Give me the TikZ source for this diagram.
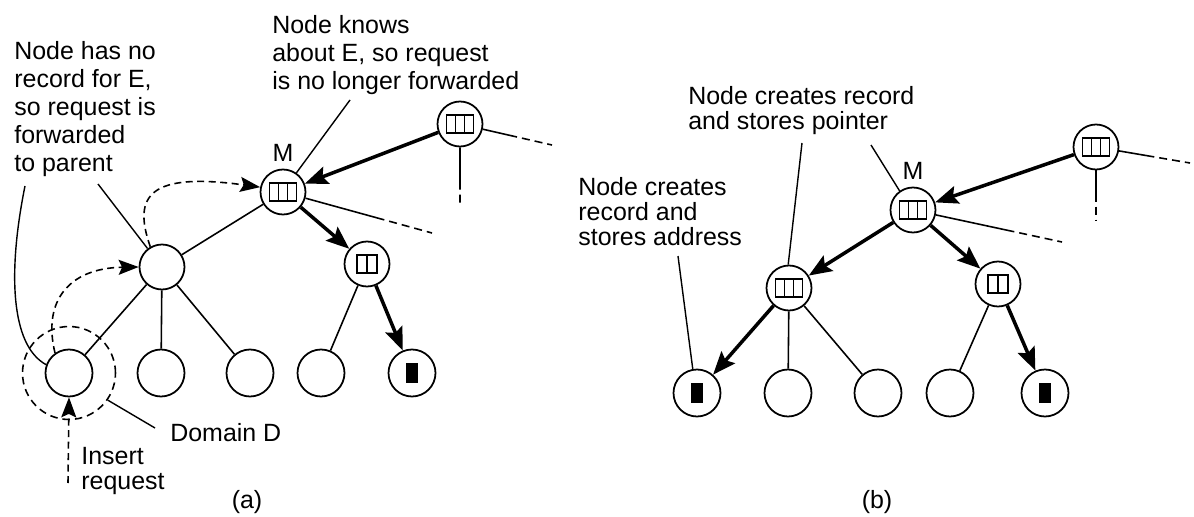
\documentclass[tikz,border=0pt]{standalone}
\usepackage{fontspec}
\setmainfont{Liberation Sans}
\usetikzlibrary{arrows.meta,positioning,calc}

\begin{document}
\begin{tikzpicture}[x=0.02cm,y=-0.02cm,font=\fontsize{14.2}{14.2}\selectfont,
 tn/.style={circle,draw,line width=1pt,minimum size=0.9cm,inner sep=0},
 leaf/.style={tn,minimum size=0.94cm},
 rec3/.style={tn,path picture={\draw[line width=1.1pt]
   ([shift={(-13.5,-9)}]path picture bounding box.center) rectangle +(27,18)
   ([shift={(-4.5,-9)}]path picture bounding box.center) -- +(0,18)
   ([shift={(4.5,-9)}]path picture bounding box.center) -- +(0,18);}},
 rec2/.style={tn,path picture={\draw[line width=1.1pt]
   ([shift={(-10,-9)}]path picture bounding box.center) rectangle +(20,18)
   ([shift={(0,-9)}]path picture bounding box.center) -- +(0,18);}},
 recf/.style={leaf,path picture={\fill
   ([shift={(-6,-10)}]path picture bounding box.center) rectangle +(12,20);}},
 domc/.style={circle,draw,line width=0.9pt,dash pattern=on 0.15cm off 0.1cm,minimum size=1.86cm,inner sep=0},
 lnk/.style={line width=0.9pt},
 dang/.style={lnk,dash pattern=on 0.16cm off 0.1cm,dash phase=0.16cm},
 thk/.style={line width=2pt,-{Stealth[length=0.46cm,width=0.36cm,inset=0.08cm]}},
 darr/.style={line width=0.9pt,dash pattern=on 0.14cm off 0.09cm,-{Stealth[length=0.4cm,width=0.3cm,inset=0.07cm]}},
 ptr/.style={line width=0.8pt},
 txt/.style={align=left,inner sep=0,anchor=north west},
 txtw/.style={txt,font=\fontsize{14.2}{15.9}\selectfont}]
\useasboundingbox (0,0) rectangle (1194,517);

% (a)
\node[rec3] (Ma) at (283,192) {};
\node[above=0.14cm of Ma,inner sep=0] (MaL) {M};
\node[rec3] (Ta) at (460,124) {};
\node[tn] (La) at (162,267) {};
\node[rec2] (Ra) at (367,264) {};
\node[leaf] (a1) at (69,373) {};
\node[leaf] (a2) at (161,373) {};
\node[leaf] (a3) at (250,373) {};
\node[leaf] (a4) at (321,373) {};
\node[recf] (a5) at (412,373) {};
\node[domc] (Da) at (a1) {};
\draw[thk] (Ta) -- (Ma);
\draw[thk] (Ma) -- (Ra);
\draw[thk] (Ra) -- (a5);
\draw[lnk] (Ma) -- (La);
\foreach \n in {a1,a2,a3}{\draw[lnk] (La) -- (\n);}
\draw[lnk] (Ra) -- (a4);
\coordinate (MaR) at (432,233);
\coordinate (TaR) at (552,145);
\coordinate (TaD) at (460,206);
\coordinate (MaM) at ($(Ma)!0.68!(MaR)$);
\coordinate (TaM) at ($(Ta)!0.62!(TaR)$);
\coordinate (TaN) at ($(Ta)!0.8!(TaD)$);
\draw[lnk] (Ma) -- (MaM);
\draw[dang] (MaM) -- (MaR);
\draw[lnk] (Ta) -- (TaM);
\draw[dang] (TaM) -- (TaR);
\draw[lnk] (Ta) -- (TaN);
\draw[dang] (TaN) -- (TaD);
\draw[darr] (a1.125) .. controls (42,300) and (70,268) .. (La.180);
\draw[darr] (La.120) .. controls (132,195) and (150,172) .. (Ma.168);
\node[txtw] (ta) at (14,41) {Node has no\\record for E,\\so request is\\forwarded\\to parent};
\coordinate (ta1) at (25,186);
\coordinate (ta2) at (98,184);
\draw[ptr] (ta1) .. controls (8,270) and (10,345) .. (a1.160);
\draw[ptr] (ta2) -- (La.128);
\node[txtw] (tb) at (272,15) {Node knows\\about E, so request\\is no longer forwarded};
\coordinate (tb1) at (350,100);
\draw[ptr] (tb1) -- (Ma.55);
\node[anchor=west,inner sep=0] (dl) at (170,433) {Domain D};
\draw[ptr] ([shift={(-15,-5)}]dl.west) -- (Da.-35);
\node[txt,anchor=west] (ir) at (81,471) {Insert\\request};
\coordinate (irS) at (68,483);
\draw[darr] (irS) -- (a1.south);
\node (capa) at (247,502) {(a)};

% (b)
\node[rec3] (Mb) at (913,210) {};
\node[above=0.14cm of Mb,inner sep=0] (MbL) {M};
\node[rec3] (Tb) at (1096,147) {};
\node[rec3] (Lb) at (789,288) {};
\node[rec2] (Rb) at (998,284) {};
\node[recf] (b1) at (697,393) {};
\node[leaf] (b2) at (788,393) {};
\node[leaf] (b3) at (878,393) {};
\node[leaf] (b4) at (950,393) {};
\node[recf] (b5) at (1045,393) {};
\draw[thk] (Tb) -- (Mb);
\foreach \a/\b in {Mb/Lb,Mb/Rb,Lb/b1,Rb/b5}{\draw[thk] (\a) -- (\b);}
\foreach \a/\b in {Lb/b2,Lb/b3,Rb/b4}{\draw[lnk] (\a) -- (\b);}
\coordinate (MbR) at (1062,242);
\coordinate (TbR) at (1190,163);
\coordinate (TbD) at (1096,220);
\coordinate (MbM) at ($(Mb)!0.68!(MbR)$);
\coordinate (TbM) at ($(Tb)!0.62!(TbR)$);
\coordinate (TbN) at ($(Tb)!0.75!(TbD)$);
\draw[lnk] (Mb) -- (MbM);
\draw[dang] (MbM) -- (MbR);
\draw[lnk] (Tb) -- (TbM);
\draw[dang] (TbM) -- (TbR);
\draw[lnk] (Tb) -- (TbN);
\draw[dang] (TbN) -- (TbD);
\node[txt] (tc) at (688,86) {Node creates record\\and stores pointer};
\coordinate (tc1) at (802,143);
\coordinate (tc2) at (871,145);
\draw[ptr] (tc1) -- (Lb.92);
\draw[ptr] (tc2) -- (Mb.125);
\node[txt] (td) at (578,177) {Node creates\\record and\\stores address};
\coordinate (td1) at (678,256);
\draw[ptr] (td1) -- (b1.100);
\node (capb) at (877,502) {(b)};
\end{tikzpicture}
\end{document}
